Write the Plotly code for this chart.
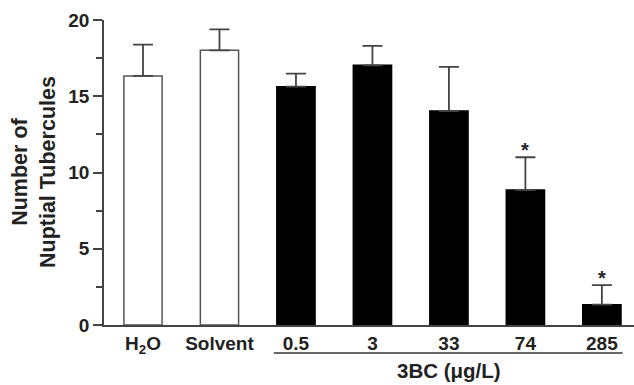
import plotly.graph_objects as go

categories = ["H<sub>2</sub>O", "Solvent", "0.5", "3", "33", "74", "285"]
means = [16.33, 18.01, 15.63, 17.03, 14.03, 8.85, 1.33]
errors = [2.05, 1.38, 0.85, 1.27, 2.89, 2.15, 1.29]
fills = ["white", "white", "black", "black", "black", "black", "black"]
outlines = ["#555555", "#555555", "black", "black", "black", "black", "black"]
significant = [False, False, False, False, False, True, True]
group_label = "3BC (μg/L)"
y_title = "Number of<br>Nuptial Tubercules"

idx = list(range(len(categories)))
FONT = "Liberation Sans, Arial, Helvetica, sans-serif"

fig = go.Figure()
fig.add_trace(go.Bar(
    x=idx, y=means,
    marker=dict(color=fills, line=dict(color=outlines, width=1.5)),
    width=0.5,
    error_y=dict(type="data", array=errors, arrayminus=[0]*len(errors),
                 symmetric=False, color="#444444", thickness=1.8, width=10),
))

for i, (m, e, s) in enumerate(zip(means, errors, significant)):
    if s:
        fig.add_annotation(x=i, y=m + e, text="<b>*</b>", showarrow=False,
                           yanchor="bottom", yshift=-6,
                           font=dict(size=20, color="#222", family=FONT))

fig.add_shape(type="line", xref="x", yref="paper", x0=1.71, x1=6.27,
              y0=-0.092, y1=-0.092, line=dict(color="#333", width=1.5))
fig.add_annotation(x=4, xref="x", y=-0.148, yref="paper", text="<b>" + group_label + "</b>",
                   showarrow=False, yanchor="middle",
                   font=dict(size=20.5, color="#222", family=FONT))
fig.add_annotation(x=-0.133, xref="paper", y=0.5, yref="paper",
                   text="<b>" + y_title + "</b>", textangle=-90, showarrow=False,
                   xanchor="center", yanchor="middle",
                   font=dict(size=21.5, color="#222", family=FONT))

fig.update_layout(
    width=634, height=385,
    margin=dict(l=104, r=0, t=20, b=60),
    plot_bgcolor="white", paper_bgcolor="white",
    showlegend=False,
    font=dict(family=FONT, size=19, color="#222"),
)
fig.update_xaxes(
    range=[-0.51, 6.42], tickvals=idx,
    ticktext=["<b>" + c + "</b>" for c in categories],
    showline=True, linecolor="#444", linewidth=1.5, ticks="",
    showgrid=False, zeroline=False, tickfont=dict(size=19),
)
fig.update_yaxes(
    range=[0, 20], tickvals=[0, 5, 10, 15, 20],
    ticktext=["<b>%d</b>" % v for v in [0, 5, 10, 15, 20]],
    showline=True, linecolor="#444", linewidth=1.5,
    ticks="outside", ticklen=9, tickwidth=1.5, tickcolor="#444",
    minor=dict(tickvals=[2.5, 7.5, 12.5, 17.5], ticks="outside", ticklen=6,
               tickwidth=1.5, tickcolor="#444"),
    showgrid=False, zeroline=False, tickfont=dict(size=19),
)

fig.write_html("out.html")
